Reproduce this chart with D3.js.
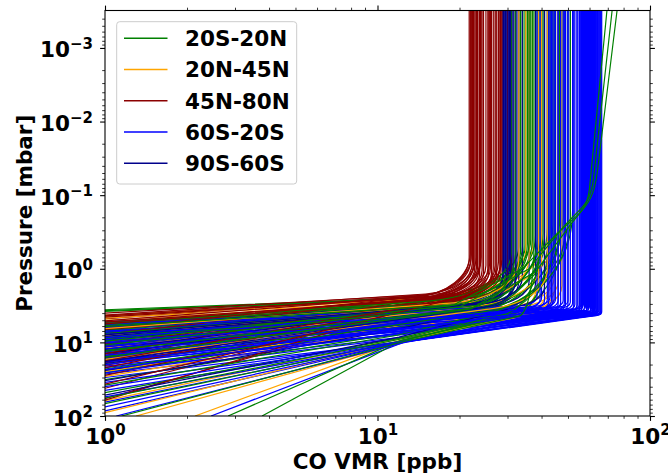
<!DOCTYPE html>
<html><head><meta charset="utf-8">
<script src="https://cdn.jsdelivr.net/npm/d3@7"></script>
<style>
body{margin:0;background:#fff}
svg{display:block}
text{font-family:"DejaVu Sans";font-weight:bold}
</style>
</head><body>
<svg id="chart" width="668" height="475"></svg>
<script>
// ---------------- DATA ----------------
const regionNames = ["20S-20N", "20N-45N", "45N-80N", "60S-20S", "90S-60S"];
const xMajorTicks = [1, 10, 100];
const xMajorExp = ["0", "1", "2"];
const yMajorTicks = [100, 10, 1, 0.1, 0.01, 0.001];
const yMajorExp = ["2", "1", "0", "\u22121", "\u22122", "\u22123"];
const xLabel = "CO VMR [ppb]";
const yLabel = "Pressure [mbar]";
const pressureTop = 3.1e-4;

// Each profile: flat list of (VMR ppb, pressure mbar) points from the bottom up;
// the last pair is where the profile turns vertical; an optional odd trailing
// number is the VMR reached at the top of the plot.
const profiles20S20N = [
  [1,3.6, 14,2.5, 33,0.5],
  [1,3.7, 15,2.55, 35,0.45],
  [1,3.8, 13,2.6, 36.5,0.4],
  [1,5.5, 18,3.0, 38,0.35],
  [1,7.2, 20,3.2, 40,0.3],
  [1,9.0, 22,3.4, 42,0.28],
  [1,11.5, 21,3.5, 44,0.25],
  [1,6.4, 19,3.1, 37,0.4],
  [1,14, 24,3.6, 46,0.22],
  [1,8.1, 23,3.3, 48,0.2],
  [1,17, 25,3.7, 50,0.18],
  [1,5.3, 17,2.9, 34,0.5],
  [1,26, 11,6.5, 26,3.8, 52,0.16],
  [1,10.3, 20,3.4, 39,0.38],
  [1,32, 12,7.5, 27,3.9, 47,0.25],
  [1,6.9, 18,3.1, 35.5,0.45],
  [1,12.8, 22,3.5, 41,0.32],
  [1,48, 12,8.8, 28,4.1, 45,0.3],
  [1,5.9, 16,3.0, 33.5,0.55],
  [1,20, 24,3.7, 43,0.28],
  [1,68, 12.5,9.4, 30,4.2, 49,0.22],
  [3.77,100, 12.3,9.3, 32,4.3, 42.5,0.35],
  [2.83,100, 12,9.6, 30,4.4, 44.5,0.3],
  [1,8.6, 21,3.3, 38.5,0.4],
  [1,15.5, 23,3.6, 40.5,0.33],
  [1,5.6, 14.5,2.8, 31,0.6],
  [1,38, 11.8,8, 26,3.9, 46.5,0.26],
  [1,7.6, 19,3.2, 36,0.42],
  [1,23, 25,3.8, 51,0.2],
  [1,9.6, 17,3.3, 34.5,0.5],
  [1,57, 12.2,9, 29,4.2, 39.5,0.45],
  [1,13.3, 21,3.5, 32,0.6],
  [1.15,100, 12.4,9.8, 33,4.4, 37.5,0.5],
  [1,10.8, 20,3.3, 36,1.0, 47,0.3, 62,0.06, 72.6],
  [1,16, 22,3.5, 38,1.1, 50,0.28, 64,0.05, 75.7],
  [1,6.1, 19,3.1, 34,1.0, 45,0.35, 60,0.08, 69.5]
];
const profiles20N45N = [
  [1,4.3, 16,2.5, 37,0.5],
  [1,4.7, 17,2.6, 41,0.4],
  [1,5.0, 18,2.7, 45,0.35],
  [1,4.5, 15,2.5, 35,0.55],
  [1,25, 11,6.3, 28,3.6, 44.5,1.3],
  [1,29, 11.5,6.8, 30,3.7, 46,1.5],
  [1,62, 12,9, 33,4.1, 47.5,1.7],
  [1,90, 12.2,9.4, 34,4.2, 43,1.4],
  [2.14,100, 12.1,9.6, 35,4.3, 45,1.6],
  [1.3,100, 12.5,9.9, 32,4.2, 39,1.2],
  [1,12, 22,3.3, 40,0.8],
  [1,8, 20,3.0, 36,0.7],
  [1,17, 26,3.5, 42,1.0],
  [1,6.5, 19,2.9, 33,0.75]
];
const profiles45N80N = [
  [1,4.4, 14,2.35, 21.7,0.7],
  [1,4.8, 14.5,2.3, 22.0,0.75],
  [1,13.5, 15,2.45, 22.3,0.8],
  [1,9.2, 15.5,2.45, 22.5,0.85],
  [1,8.4, 16,2.5, 22.8,0.9],
  [1,4.25, 15,2.2, 23.0,0.7],
  [1,16.5, 16,2.5, 23.3,0.95],
  [1,19, 16.5,2.55, 23.6,1.0],
  [1,6.2, 16,2.4, 23.9,0.8],
  [1,12, 17,2.55, 24.2,1.05],
  [1,42, 17.5,2.7, 24.5,1.1],
  [1,7.6, 17,2.4, 25.0,0.9],
  [1,11.2, 18,2.5, 25.4,1.0],
  [1,4.55, 17.5,2.3, 25.8,0.85],
  [1,58, 18.5,2.75, 26.2,1.15],
  [1,9.8, 19,2.55, 26.6,1.0],
  [1,5.3, 19,2.45, 27.0,0.9],
  [1,15, 19.5,2.6, 27.4,1.1],
  [1,6.8, 19,2.35, 27.8,0.8],
  [1,5.8, 20,2.45, 28.1,0.95],
  [1,28, 20,2.65, 28.4,1.1],
  [1,4.35, 19.5,2.3, 28.6,0.75],
  [1,20.5, 21,2.6, 30.0,1.2],
  [1,10.4, 22,2.5, 31.0,1.1],
  [1,5.1, 14,2.4, 22.1,0.65],
  [1,7.8, 15,2.45, 22.6,0.85],
  [1,14.2, 15.5,2.45, 23.1,0.9],
  [1,61, 16,2.75, 23.7,1.2],
  [1,4.0, 16.5,2.2, 24.0,0.7],
  [1,5.6, 18,2.4, 26.0,0.95],
  [1,22, 19,2.6, 27.2,1.0],
  [1,6.6, 14,2.4, 21.9,0.6],
  [1,17.8, 20,2.5, 28.3,0.9],
  [1,37, 18,2.7, 25.6,1.1]
];
const profiles60S20S = [
  [1,6.0, 61,3.75, 63,3.3],
  [1,7.5, 62,3.9, 64,3.5],
  [1,9.0, 63,4.0, 65,3.6],
  [1,11, 62,4.1, 64.5,3.7],
  [1,13, 60,4.1, 62,3.6],
  [1,5.5, 58,3.7, 60,3.2],
  [1,16, 63,4.2, 65.5,3.8],
  [1,8.2, 59,3.9, 61,3.4],
  [1,19, 61,4.25, 63.5,3.85],
  [1,6.8, 57,3.8, 59,3.3],
  [1,24, 64,4.3, 66,3.9],
  [1,10, 60,4.0, 62.5,3.5],
  [1,14.5, 58,4.1, 60.5,3.6],
  [1,30, 13,9.6, 62,4.3, 64,3.9],
  [1,45, 12.5,9.8, 60,4.3, 62.5,3.95],
  [1,7.0, 56,3.7, 58,3.2],
  [1,12, 57,4.0, 59.5,3.4],
  [1,21, 59,4.25, 61.5,3.8],
  [1,5.2, 55,3.5, 57,3.0],
  [1,65, 12,10, 61,4.35, 63,3.95],
  [1,9.5, 64,4.1, 66,3.7],
  [1,17.5, 56,4.1, 58.5,3.6],
  [1,27, 60,4.3, 62,3.85],
  [2.45,100, 12.5,9.9, 63,4.35, 65,3.95],
  [1,6.3, 60,3.8, 62,3.3],
  [1,11.8, 65,4.2, 66.5,3.8],
  [1,85, 12.8,9.7, 58,4.35, 60.5,3.9],
  [1,15.5, 62,4.2, 64,3.7],
  [1,8, 48,3.6, 52,2.95],
  [1,12.5, 50,3.8, 54,3.1],
  [1,6.5, 47,3.4, 51,2.85],
  [1,18, 52,4.0, 55.5,3.3],
  [1,10.5, 49,3.7, 53,3.05],
  [1,22, 51,4.1, 55,3.4],
  [1,5.8, 46,3.3, 50,2.75],
  [1,14, 53,3.9, 56.5,3.3],
  [1,35, 13,9.4, 50,4.2, 54,3.5],
  [1,9.2, 51,3.7, 55,3.1],
  [1,7.3, 52,3.6, 56,3.0],
  [1,16.5, 48,3.9, 52.5,3.2],
  [1,55, 12.2,10, 52,4.25, 56,3.6],
  [1,11, 54,3.9, 57.5,3.3],
  [1,7, 34,3.4, 40,2.5],
  [1,9.8, 36,3.5, 42,2.6],
  [1,13.5, 35,3.7, 41,2.7],
  [1,5.6, 33,3.2, 38.5,2.4],
  [1,20, 38,3.9, 44,2.8],
  [1,8.6, 39,3.5, 45,2.6],
  [1,11.5, 40,3.6, 46,2.7],
  [1,6.2, 37,3.3, 43,2.4],
  [1,26, 41,4.0, 47,2.9],
  [1,15, 37,3.7, 43.5,2.7],
  [1,7.8, 42,3.5, 48,2.7],
  [1,40, 12.8,9.5, 42,4.15, 49,3.0],
  [1,10.2, 38,3.6, 44.5,2.6],
  [1,18.5, 43,3.9, 48.5,2.9],
  [1,12.2, 34,3.6, 39.5,2.6],
  [1,75, 12,10.2, 40,4.15, 46,3.0],
  [1.1,100, 12.5,10.1, 44,4.2, 50,3.0],
  [1,23.5, 36,3.9, 42.5,2.8]
];
const profiles90S60S = [
  [1,5.3, 20,2.8, 29,1.1],
  [1,6.7, 21,2.9, 29.5,1.2],
  [1,8.8, 22,3.0, 30,1.25],
  [1,10.6, 22.5,3.1, 30.5,1.3],
  [1,13, 23,3.2, 31,1.35],
  [1,7.4, 21.5,2.9, 31.5,1.2],
  [1,16, 24,3.3, 32,1.4],
  [1,5.9, 23,2.8, 32.5,1.15],
  [1,19.5, 25,3.4, 33,1.45],
  [1,9.4, 22,3.0, 28.8,1.2],
  [1,11.8, 26,3.2, 36,1.5],
  [1,24, 27,3.6, 38,1.6],
  [1,6.2, 20.5,2.85, 29.2,1.1],
  [1,14.2, 23.5,3.2, 30.2,1.3],
  [1,33, 11,7, 25,3.6, 31.2,1.5],
  [1,8.2, 24,3.0, 34,1.3],
  [1,52, 12,8.5, 28,3.8, 41,1.8],
  [1,12.4, 21,3.1, 29.8,1.25],
  [1,7.9, 22.5,2.95, 30.8,1.2],
  [1,18.2, 24.5,3.35, 32.2,1.4]
];
const regionProfiles = [profiles20S20N, profiles20N45N, profiles45N80N, profiles60S20S, profiles90S60S];

// ---------------- STYLE ----------------
const regionColors = ["#008000", "#ffa500", "#8b0000", "#0000ff", "#00008b"];
const orderShift = [0.12, 0.02, 0, 0.03, 0.01];   // slight drawing-order bias per region
const plot = {left: 105, right: 650, top: 10.5, bottom: 416};
const FS = 21.5, SUP = 15;

const svg = d3.select("#chart");
const x = d3.scaleLog().domain([1, 100]).range([plot.left, plot.right]);
const y = d3.scaleLog().domain([100, pressureTop]).range([plot.bottom, plot.top]);

svg.append("defs").append("clipPath").attr("id", "clip")
  .append("rect").attr("x", plot.left).attr("y", plot.top)
  .attr("width", plot.right - plot.left).attr("height", plot.bottom - plot.top);

function profilePath(arr) {
  let n = arr.length, topV = null;
  if (n % 2 === 1) { topV = arr[n - 1]; n -= 1; }
  const pts = [];
  for (let i = 0; i < n; i += 2) pts.push([x(arr[i]), y(arr[i + 1])]);
  const D = pts[pts.length - 1], B = pts[pts.length - 2], A = pts[pts.length - 3];
  const T = [x(topV === null ? arr[n - 2] : topV), y(pressureTop)];
  const p = d3.path();
  p.moveTo(pts[0][0], pts[0][1]);
  for (let i = 1; i < pts.length - 1; i++) p.lineTo(pts[i][0], pts[i][1]);
  const ux = B[0] - A[0], uy = B[1] - A[1], ul = Math.hypot(ux, uy);
  const dx = Math.abs(D[0] - B[0]), dy = Math.abs(D[1] - B[1]);
  const L1 = Math.min(0.55 * dx / Math.max(Math.abs(ux / ul), 0.4), 0.6 * Math.hypot(dx, dy));
  const vx = D[0] - T[0], vy = D[1] - T[1], vl = Math.hypot(vx, vy);
  const L2 = 0.55 * dy;
  p.bezierCurveTo(B[0] + ux / ul * L1, B[1] + uy / ul * L1,
                  D[0] + vx / vl * L2, D[1] + vy / vl * L2, D[0], D[1]);
  p.lineTo(T[0], T[1]);
  return p.toString();
}

const drawList = [];
regionProfiles.forEach((list, r) => list.forEach((prof, i) =>
  drawList.push({r, prof, key: (i + 0.5) / list.length + orderShift[r]})));
drawList.sort((a, b) => a.key - b.key);

svg.append("g").attr("clip-path", "url(#clip)")
  .selectAll("path").data(drawList).join("path")
  .attr("d", d => profilePath(d.prof))
  .attr("fill", "none")
  .attr("stroke", d => regionColors[d.r])
  .attr("stroke-width", 1.2);

// ---------------- AXES ----------------
const xMinor = x.ticks().filter(v => !xMajorTicks.includes(v));
const yMinor = y.ticks().filter(v => Math.abs(Math.log10(v) - Math.round(Math.log10(v))) > 1e-6);

function axisGroup(axisFn, scale, vals, size, tr) {
  const g = svg.append("g").attr("transform", tr)
    .call(axisFn(scale).tickValues(vals).tickSize(size).tickPadding(0).tickFormat(""));
  g.select(".domain").remove();
  g.selectAll(".tick line").attr("stroke", "#000").attr("stroke-width", size > 4 ? 1.1 : 0.8);
  g.attr("font-family", "DejaVu Sans").attr("font-size", FS).attr("font-weight", "bold");
  return g;
}
const gxb = axisGroup(d3.axisBottom, x, xMajorTicks, 4.9, `translate(0,${plot.bottom})`);
axisGroup(d3.axisBottom, x, xMinor, 2.8, `translate(0,${plot.bottom})`);
axisGroup(d3.axisTop, x, xMajorTicks, 4.9, `translate(0,${plot.top})`);
axisGroup(d3.axisTop, x, xMinor, 2.8, `translate(0,${plot.top})`);
const gyl = axisGroup(d3.axisLeft, y, yMajorTicks, 4.9, `translate(${plot.left},0)`);
axisGroup(d3.axisLeft, y, yMinor, 2.8, `translate(${plot.left},0)`);
axisGroup(d3.axisRight, y, yMajorTicks, 4.9, `translate(${plot.right},0)`);
axisGroup(d3.axisRight, y, yMinor, 2.8, `translate(${plot.right},0)`);

gxb.selectAll(".tick text").each(function(d) {
  const t = d3.select(this).text(null).attr("y", 27.5).attr("dy", null)
    .attr("text-anchor", "middle").attr("fill", "#000");
  t.append("tspan").text("10");
  t.append("tspan").attr("dy", -8.5).attr("font-size", SUP).text(xMajorExp[xMajorTicks.indexOf(d)]);
});
gyl.selectAll(".tick text").each(function(d) {
  const t = d3.select(this).text(null).attr("x", -12).attr("y", 9).attr("dy", null)
    .attr("text-anchor", "end").attr("fill", "#000");
  t.append("tspan").text("10");
  t.append("tspan").attr("dy", -8.5).attr("font-size", SUP).text(yMajorExp[yMajorTicks.indexOf(d)]);
});

// frame
svg.append("rect").attr("x", plot.left).attr("y", plot.top)
  .attr("width", plot.right - plot.left).attr("height", plot.bottom - plot.top)
  .attr("fill", "none").attr("stroke", "#000").attr("stroke-width", 1.1);

// axis titles
svg.append("text").attr("x", (plot.left + plot.right) / 2).attr("y", 469)
  .attr("text-anchor", "middle").attr("font-size", FS).text(xLabel);
svg.append("text").attr("transform", `translate(32,${(plot.top + plot.bottom) / 2}) rotate(-90)`)
  .attr("text-anchor", "middle").attr("font-size", FS).text(yLabel);

// legend
const lg = svg.append("g");
lg.append("rect").attr("x", 116.7).attr("y", 21.7).attr("width", 180).attr("height", 162.3)
  .attr("rx", 3).attr("fill", "#fff").attr("fill-opacity", 0.8)
  .attr("stroke", "#cccccc").attr("stroke-width", 1);
regionNames.forEach((name, i) => {
  const ry = 38.3 + i * 31.25;
  lg.append("line").attr("x1", 124).attr("x2", 167.5).attr("y1", ry).attr("y2", ry)
    .attr("stroke", regionColors[i]).attr("stroke-width", 1.5);
  lg.append("text").attr("x", 185).attr("y", ry + 7.8).attr("font-size", FS).text(name);
});
</script>
</body></html>
